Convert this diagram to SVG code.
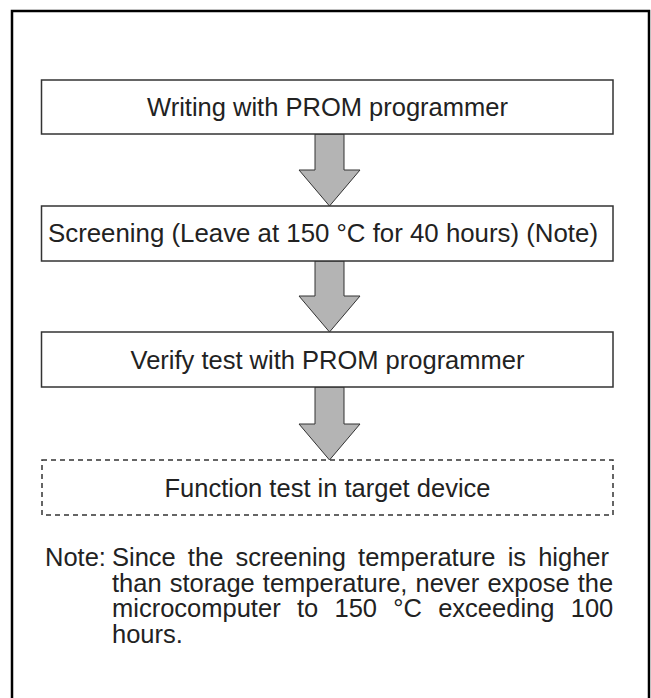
<svg xmlns="http://www.w3.org/2000/svg" width="651" height="698" viewBox="0 0 651 698">
<style>
.box{fill:#fff;stroke:#333;stroke-width:1.5}
.dash{fill:#fff;stroke:#333;stroke-width:1.5;stroke-dasharray:5,4}
.arr{fill:#b4b4b4;stroke:#333;stroke-width:1}
.t{font-family:"Liberation Sans",Arial,sans-serif;font-size:25.5px;fill:#222}
.c{text-anchor:middle}
</style>
<rect x="0" y="0" width="651" height="698" fill="#fff"/>
<path d="M12 700 V11 H649 V700" fill="none" stroke="#000" stroke-width="2.5"/>
<g id="connectors">
<path class="arr" d="M315 134 V170 H299 L329.5 206 L360 170 H344 V134 Z"/>
<path class="arr" d="M315 261 V296 H299 L329.5 332 L360 296 H344 V261 Z"/>
<path class="arr" d="M315 387 V424 H299 L329.5 460 L360 424 H344 V387 Z"/>
</g>
<g id="n1">
<rect class="box" x="41.5" y="80" width="571.5" height="54"/>
<text class="t c" x="327.5" y="116">Writing with PROM programmer</text>
</g>
<g id="n2">
<rect class="box" x="41.5" y="206" width="571.5" height="55"/>
<text class="t c" x="323" y="242" textLength="550" lengthAdjust="spacingAndGlyphs">Screening (Leave at 150 °C for 40 hours) (Note)</text>
</g>
<g id="n3">
<rect class="box" x="41.5" y="332" width="571.5" height="55"/>
<text class="t c" x="327.5" y="369">Verify test with PROM programmer</text>
</g>
<g id="n4">
<rect class="dash" x="42" y="460" width="571" height="55"/>
<text class="t c" x="327.5" y="497">Function test in target device</text>
</g>
<g id="note">
<text class="t" x="45" y="566">Note:</text>
<text class="t" x="112" y="566" style="word-spacing:5px">Since the screening temperature is higher</text>
<text class="t" x="112" y="591.5" style="word-spacing:1px">than storage temperature, never expose the</text>
<text class="t" x="112" y="617" style="word-spacing:9.2px">microcomputer to 150 °C exceeding 100</text>
<text class="t" x="112" y="642.5">hours.</text>
</g>
</svg>
